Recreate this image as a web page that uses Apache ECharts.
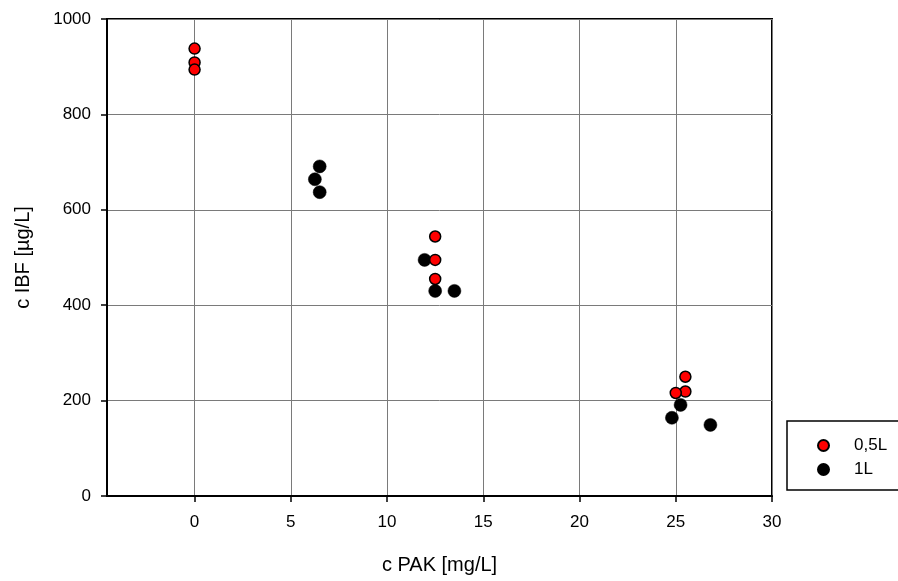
<!DOCTYPE html>
<html>
<head>
<meta charset="utf-8">
<script src="https://cdn.jsdelivr.net/npm/echarts@6/dist/echarts.min.js"></script>
<style>html,body{margin:0;padding:0;background:#fff;}#c{width:898px;height:581px;}</style>
</head>
<body>
<div id="c"></div>
<script>
const seriesNames = ['0,5L', '1L'];
const halfLiterX = [0, 0, 0, 12.5, 12.5, 12.5, 25.5, 25.5, 25.0];
const halfLiterY = [938, 909, 894, 544, 495, 455, 250, 219, 216];
const oneLiterX = [6.5, 6.25, 6.5, 11.95, 12.5, 13.5, 25.25, 24.8, 26.8];
const oneLiterY = [691, 664, 637, 495, 430, 430, 191, 164, 149];
const xTicks = [0, 5, 10, 15, 20, 25, 30];
const yTicks = [0, 200, 400, 600, 800, 1000];

const font = 'Liberation Sans, Arial, sans-serif';
const chart = echarts.init(document.getElementById('c'), null, {renderer: 'canvas'});
const pairs = (xs, ys) => xs.map((x, i) => [x, ys[i]]);

chart.setOption({
  animation: false,
  backgroundColor: '#fff',
  textStyle: {fontFamily: font},
  grid: {left: 107, right: 126, top: 19, bottom: 85, show: true, borderColor: '#000', borderWidth: 2, containLabel: false},
  legend: {
    orient: 'vertical',
    left: 787, top: 421,
    padding: [16, 40, 12, 30],
    itemGap: 7,
    itemWidth: 11, itemHeight: 11,
    borderColor: '#000', borderWidth: 1.5,
    textStyle: {fontFamily: font, fontSize: 17, color: '#000', lineHeight: 15, padding: [0, 0, 0, 20]},
    data: [seriesNames[0], seriesNames[1]]
  },
  xAxis: {
    type: 'value', min: -4.55, max: 30, minInterval: 5, maxInterval: 5,
    name: 'c PAK [mg/L]', nameLocation: 'middle', nameGap: 59,
    nameTextStyle: {fontFamily: font, fontSize: 20, color: '#000'},
    axisLine: {onZero: false, lineStyle: {color: '#000', width: 2}},
    axisTick: {show: true, inside: false, length: 6, lineStyle: {color: '#000', width: 1.5},
      customValues: xTicks},
    axisLabel: {fontFamily: font, fontSize: 17, color: '#000', margin: 18,
      customValues: xTicks},
    splitLine: {show: true, lineStyle: {color: '#7a7a7a', width: 1}}
  },
  yAxis: {
    type: 'value', min: 0, max: 1000, interval: 200,
    name: 'c IBF [µg/L]', nameLocation: 'middle', nameGap: 74,
    nameTextStyle: {fontFamily: font, fontSize: 20, color: '#000'},
    axisLine: {onZero: false, lineStyle: {color: '#000', width: 2}},
    axisTick: {show: true, inside: false, length: 6, lineStyle: {color: '#000', width: 1.5}},
    axisLabel: {fontFamily: font, fontSize: 17, color: '#000', margin: 16,
      customValues: yTicks, formatter: v => String(v)},
    splitLine: {show: true, lineStyle: {color: '#7a7a7a', width: 1}}
  },
  series: [
    {
      name: seriesNames[1], type: 'scatter', symbol: 'circle', symbolSize: 13,
      itemStyle: {color: '#000', borderColor: '#000', borderWidth: 0.5, opacity: 1},
      data: pairs(oneLiterX, oneLiterY), z: 3
    },
    {
      name: seriesNames[0], type: 'scatter', symbol: 'circle', symbolSize: 11,
      itemStyle: {color: '#ff0000', borderColor: '#000', borderWidth: 1.5, opacity: 1},
      data: pairs(halfLiterX, halfLiterY), z: 4
    }
  ]
});
</script>
</body>
</html>
